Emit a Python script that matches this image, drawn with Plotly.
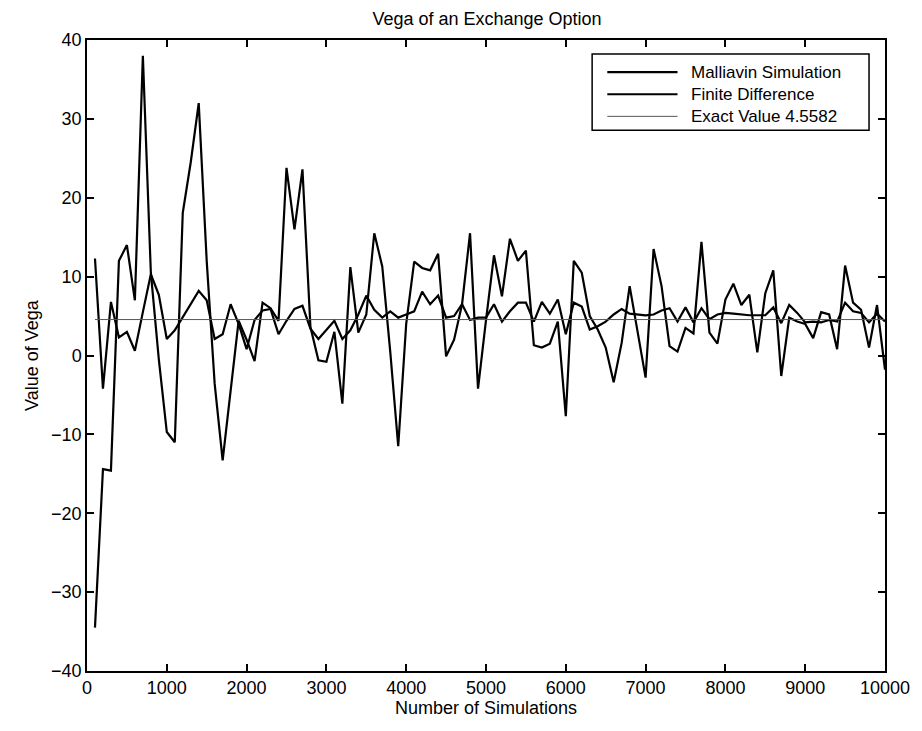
import plotly.graph_objects as go

n_sims = [100 * i for i in range(1, 101)]

malliavin = [
    12.3, -4.2, 6.8, 2.3, 3.0, 0.6, 5.5, 10.3, 7.7, 2.1,
    3.2, 4.9, 6.5, 8.2, 7.0, 2.1, 2.7, 6.5, 4.0, 0.8,
    4.5, 5.7, 5.9, 2.7, 4.4, 5.9, 6.3, 3.4, 2.1, 3.2,
    4.4, 2.1, 3.2, 5.2, 7.6, 5.8, 4.8, 5.6, 4.8, 5.2,
    5.6, 8.1, 6.5, 7.6, 4.8, 5.0, 6.5, 4.5, 4.8, 4.8,
    6.5, 4.3, 5.6, 6.7, 6.7, 4.3, 6.8, 5.3, 7.1, 2.7,
    6.7, 6.2, 3.3, 3.7, 4.3, 5.2, 5.9, 5.3, 5.2, 5.1,
    5.2, 5.7, 6.0, 4.3, 6.1, 4.2, 6.0, 4.6, 5.2, 5.4,
    5.3, 5.2, 5.1, 5.1, 5.1, 6.1, 4.1, 6.4, 5.4, 4.2,
    4.3, 4.2, 4.5, 4.3, 6.7, 5.6, 5.4, 4.2, 5.3, 4.3,
]

finite_diff = [
    -34.5, -14.4, -14.6, 12.0, 14.0, 7.0, 38.0, 10.5, -0.5, -9.7,
    -11.0, 18.1, 24.5, 32.0, 12.0, -3.6, -13.3, -4.4, 4.4, 2.0,
    -0.7, 6.7, 6.0, 4.4, 23.8, 16.0, 23.6, 3.6, -0.6, -0.8,
    3.0, -6.1, 11.2, 2.9, 5.2, 15.5, 11.3, 0.5, -11.5, 4.0,
    11.9, 11.1, 10.8, 12.9, -0.1, 2.0, 6.5, 15.5, -4.2, 4.5,
    12.7, 7.5, 14.8, 12.0, 13.3, 1.3, 1.0, 1.5, 4.3, -7.7,
    12.0, 10.5, 5.0, 3.3, 1.0, -3.4, 1.6, 8.8, 2.9, -2.8,
    13.5, 8.8, 1.2, 0.5, 3.5, 2.8, 14.4, 2.9, 1.5, 7.1,
    9.1, 6.4, 7.7, 0.4, 7.9, 10.8, -2.6, 4.8, 4.3, 4.0,
    2.2, 5.5, 5.2, 0.8, 11.4, 6.7, 5.8, 1.0, 6.4, -1.8,
]

exact_value = 4.5582
exact_series = [exact_value] * len(n_sims)

x_ticks = [0, 1000, 2000, 3000, 4000, 5000, 6000, 7000, 8000, 9000, 10000]
x_tick_text = ["0", "1000", "2000", "3000", "4000", "5000", "6000", "7000",
               "8000", "9000", "10000"]
y_ticks = [-40, -30, -20, -10, 0, 10, 20, 30, 40]
y_tick_text = ["\u221240", "\u221230", "\u221220", "\u221210", "0", "10", "20", "30", "40"]

legend_names = ["Malliavin Simulation", "Finite Difference", "Exact Value 4.5582"]
legend_widths = [2.2, 2.2, 1]
legend_colors = ["black", "black", "#555555"]

FONT = "Liberation Sans, Arial, Helvetica, sans-serif"
FS = 18
LFS = 17

fig = go.Figure()
fig.add_trace(go.Scatter(x=n_sims, y=malliavin, mode="lines",
                         name=legend_names[0],
                         line=dict(color=legend_colors[0], width=legend_widths[0])))
fig.add_trace(go.Scatter(x=n_sims, y=finite_diff, mode="lines",
                         name=legend_names[1],
                         line=dict(color=legend_colors[1], width=legend_widths[1])))
fig.add_trace(go.Scatter(x=n_sims, y=exact_series, mode="lines",
                         name=legend_names[2],
                         line=dict(color=legend_colors[2], width=legend_widths[2])))

axis_common = dict(
    showline=True, linecolor="black", linewidth=1.5, mirror="ticks",
    ticks="inside", ticklen=7, tickcolor="black", tickwidth=1.5,
    showgrid=False, zeroline=False,
    tickfont=dict(family=FONT, size=FS, color="black"),
)

# manual legend box (paper coords = plot area)
shapes = [dict(type="rect", xref="paper", yref="paper",
               x0=0.633, x1=0.980, y0=0.857, y1=0.978,
               line=dict(color="black", width=1.5), fillcolor="white", layer="above")]
annotations = []
row_y = [0.949, 0.914, 0.879]
for name, w, c, yy in zip(legend_names, legend_widths, legend_colors, row_y):
    shapes.append(dict(type="line", xref="paper", yref="paper",
                       x0=0.652, x1=0.740, y0=yy, y1=yy,
                       line=dict(color=c, width=w), layer="above"))
    annotations.append(dict(xref="paper", yref="paper", x=0.755, y=yy,
                            xanchor="left", yanchor="middle", text=name,
                            showarrow=False,
                            font=dict(family=FONT, size=LFS, color="black")))

fig.update_layout(
    width=922, height=731,
    margin=dict(l=87, r=34, t=40, b=60),
    paper_bgcolor="white", plot_bgcolor="white",
    font=dict(family=FONT, size=FS, color="black"),
    title=dict(text="Vega of an Exchange Option", x=487 / 922, xanchor="center",
               y=1 - 19 / 731, yanchor="middle", yref="container",
               font=dict(family=FONT, size=FS, color="black")),
    xaxis=dict(range=[0, 10000], tickvals=x_ticks, ticktext=x_tick_text,
               title=dict(text="Number of Simulations", standoff=4,
                          font=dict(family=FONT, size=FS)),
               **axis_common),
    yaxis=dict(range=[-40, 40], tickvals=y_ticks, ticktext=y_tick_text,
               title=dict(text="Value of Vega", standoff=8,
                          font=dict(family=FONT, size=FS)),
               **axis_common),
    shapes=shapes,
    annotations=annotations,
    showlegend=False,
)

fig.write_html("out.html")
